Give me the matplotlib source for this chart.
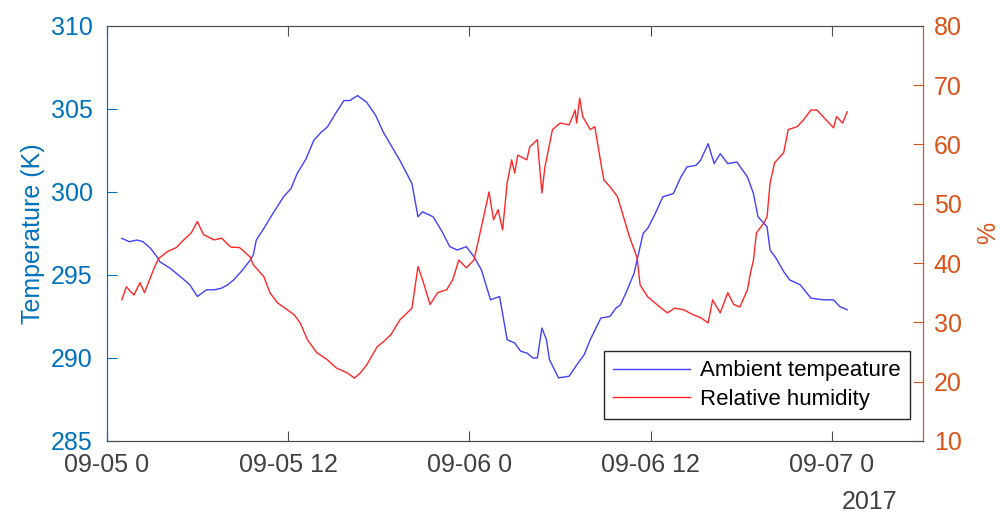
import matplotlib
matplotlib.use("Agg")
import matplotlib.pyplot as plt
import datetime as dt

plt.rcParams['font.family'] = ['Liberation Sans', 'DejaVu Sans']

# hours after 2017-09-05 00:00
temp_hours = [1.0, 1.5, 2.0, 2.4, 2.9, 3.4, 3.5, 4.2, 5.0, 5.5, 6.0, 6.3, 6.6, 7.1, 7.6, 8.0, 8.4, 9.0, 9.5,
              9.7, 9.9, 10.4, 11.0, 11.7, 12.2, 12.6, 13.2, 13.7, 14.2, 14.6, 15.2, 15.7, 16.1, 16.6, 17.2,
              17.8, 18.3, 19.4, 20.2, 20.6, 20.9, 21.6, 22.2, 22.7, 23.2, 23.8, 24.3, 24.8, 25.4, 26.0, 26.5,
              27.0, 27.4, 27.8, 28.2, 28.5, 28.8, 29.1, 29.3, 29.9, 30.6, 31.2, 31.6, 32.0, 32.7, 33.3, 33.7,
              34.0, 34.4, 34.9, 35.1, 35.5, 35.8, 36.2, 36.8, 37.5, 38.0, 38.4, 39.0, 39.3, 39.8, 40.2, 40.6,
              41.1, 41.7, 42.4, 42.8, 43.1, 43.7, 43.9, 44.3, 44.8, 45.2, 45.9, 46.6, 47.4, 48.1, 48.5, 49.0]
temp_K = [297.2, 297.0, 297.1, 297.0, 296.6, 296.0, 295.8, 295.4, 294.8, 294.4, 293.7, 293.9, 294.1, 294.1,
          294.2, 294.4, 294.7, 295.3, 295.9, 296.2, 297.1, 297.8, 298.7, 299.7, 300.2, 301.1, 302.0, 303.1,
          303.6, 303.9, 304.8, 305.5, 305.5, 305.8, 305.4, 304.6, 303.6, 301.9, 300.5, 298.5, 298.8, 298.5,
          297.6, 296.7, 296.5, 296.7, 296.1, 295.3, 293.5, 293.7, 291.1, 290.9, 290.4, 290.3, 290.0, 290.0,
          291.8, 291.1, 289.9, 288.8, 288.9, 289.7, 290.2, 291.1, 292.4, 292.5, 293.0, 293.2, 294.0, 295.1,
          295.9, 297.5, 297.8, 298.5, 299.7, 299.9, 300.9, 301.5, 301.6, 301.9, 302.9, 301.7, 302.3, 301.7,
          301.8, 300.9, 299.9, 298.5, 297.9, 296.5, 296.0, 295.2, 294.7, 294.4, 293.6, 293.5, 293.5, 293.1,
          292.9]

rh_hours = [1.0, 1.3, 1.8, 2.2, 2.5, 3.1, 3.4, 3.5, 4.0, 4.6, 5.1, 5.6, 6.0, 6.4, 7.1, 7.6, 8.2, 8.8, 9.5,
            9.7, 10.4, 10.8, 11.3, 12.4, 12.8, 13.3, 13.9, 14.6, 15.2, 15.9, 16.4, 16.8, 17.2, 17.9, 18.3,
            18.8, 19.4, 20.2, 20.6, 20.9, 21.4, 21.9, 22.5, 22.9, 23.3, 23.8, 24.3, 24.5, 24.9, 25.3, 25.6,
            25.9, 26.2, 26.5, 26.8, 27.0, 27.2, 27.8, 28.0, 28.5, 28.8, 29.0, 29.5, 30.0, 30.6, 31.0, 31.1,
            31.3, 31.5, 32.0, 32.3, 32.7, 32.9, 33.3, 33.8, 34.2, 34.6, 35.1, 35.3, 35.8, 36.6, 37.1, 37.6,
            38.2, 38.8, 39.3, 39.8, 40.1, 40.6, 41.1, 41.5, 41.9, 42.4, 42.6, 42.8, 43.0, 43.5, 43.7, 43.9,
            44.2, 44.8, 45.1, 45.7, 46.1, 46.6, 47.0, 47.4, 48.1, 48.3, 48.7, 49.0]
rh_pct = [33.8, 36.0, 34.6, 36.7, 35.0, 38.9, 40.6, 40.9, 41.9, 42.6, 43.9, 45.1, 47.0, 44.8, 43.9, 44.2,
          42.7, 42.6, 41.0, 39.7, 37.7, 35.0, 33.3, 31.3, 29.9, 27.0, 24.9, 23.7, 22.3, 21.5, 20.6, 21.5,
          22.8, 25.9, 26.7, 27.9, 30.4, 32.4, 39.4, 37.2, 33.0, 35.0, 35.5, 37.2, 40.5, 39.2, 40.5, 42.7,
          47.3, 52.0, 47.3, 49.0, 45.6, 53.5, 57.4, 55.2, 58.2, 57.4, 59.6, 60.8, 51.8, 56.2, 62.5, 63.6,
          63.3, 65.8, 63.6, 67.8, 64.7, 62.5, 63.0, 56.9, 54.0, 52.9, 51.2, 47.8, 44.4, 40.9, 36.3, 34.3,
          32.6, 31.6, 32.4, 32.1, 31.3, 30.8, 29.9, 33.8, 31.6, 35.0, 33.0, 32.6, 35.5, 38.3, 40.5, 45.1,
          46.8, 47.8, 53.5, 56.9, 58.6, 62.5, 63.0, 64.1, 65.8, 65.8, 64.7, 62.8, 64.7, 63.6, 65.5]

x_tick_hours = [0, 12, 24, 36, 48]
x_tick_labels = ['09-05 0', '09-05 12', '09-06 0', '09-06 12', '09-07 0']
series_names = ['Ambient tempeature', 'Relative humidity']

base = dt.datetime(2017, 9, 5)
to_dt = lambda hs: [base + dt.timedelta(hours=h) for h in hs]

c_left = '#0072BD'
c_right = '#D95319'
c_ax = '#4d4d4d'

fig = plt.figure(figsize=(10, 5.13), dpi=100)
ax = fig.add_axes([0.1067, 0.1404, 0.816, 0.8093])
ax2 = ax.twinx()

l1, = ax.plot(to_dt(temp_hours), temp_K, color=(0.25, 0.25, 1.0), lw=1.0, label=series_names[0])
l2, = ax2.plot(to_dt(rh_hours), rh_pct, color=(1.0, 0.15, 0.15), lw=1.0, label=series_names[1])

ax.set_xlim(base, base + dt.timedelta(hours=54))
ax.set_ylim(285, 310)
ax2.set_ylim(10, 80)
ax.set_yticks([285, 290, 295, 300, 305, 310])
ax2.set_yticks([10, 20, 30, 40, 50, 60, 70, 80])
ax.set_xticks(to_dt(x_tick_hours))
ax.set_xticklabels(x_tick_labels)

ax.tick_params(axis='x', direction='in', length=7, colors=c_ax, labelcolor='#404040',
               labelsize=18, top=True, pad=9)
ax.tick_params(axis='y', direction='in', length=7, colors=c_left, labelcolor=c_left, labelsize=18, pad=10)
ax2.tick_params(axis='y', direction='in', length=7, colors=c_right, labelcolor=c_right, labelsize=18, pad=8)

for a in (ax, ax2):
    a.spines['top'].set_color(c_ax)
    a.spines['bottom'].set_color(c_ax)
    a.spines['left'].set_color(c_left)
    a.spines['right'].set_color(c_right)

ax.set_ylabel('Temperature (K)', color=c_left, fontsize=18, labelpad=4)
ax2.set_ylabel('%', color=c_right, fontsize=18, labelpad=10)

fig.text(0.87, -0.002, '2017', fontsize=18, color='#404040', ha='center', va='bottom')

leg = ax2.legend([l1, l2], series_names, loc='lower right', bbox_to_anchor=(0.9844, 0.053),
                 borderaxespad=0.0, fontsize=16, frameon=True, fancybox=False, framealpha=1,
                 edgecolor='#262626', handlelength=3.5, borderpad=0.4, labelspacing=0.35,
                 handletextpad=0.45)
leg.get_frame().set_linewidth(1.0)

fig.savefig('out.png', dpi=100)
